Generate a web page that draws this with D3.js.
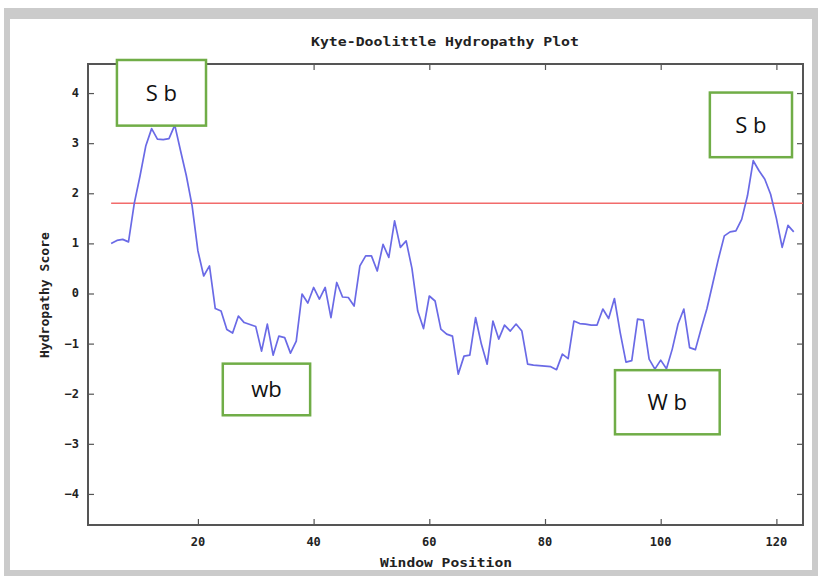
<!DOCTYPE html>
<html>
<head>
<meta charset="utf-8">
<script src="https://cdn.jsdelivr.net/npm/d3@7"></script>
<style>
  html, body { margin: 0; padding: 0; background: #fff; }
  svg { display: block; }
  .mono { font-family: "DejaVu Sans Mono", "Liberation Mono", monospace; font-weight: bold; fill: #222; }
  .note { font-family: "Open Sans", "Liberation Sans", sans-serif; fill: #111; }
</style>
</head>
<body>
<svg id="chart" width="818" height="576"></svg>
<script>
// Kyte-Doolittle hydropathy scores, one per window centre position
const windowStart = 5;
const scores = [
  1.00, 1.06, 1.08, 1.03, 1.80, 2.35, 2.95, 3.29, 3.08, 3.07,   // 5-14
  3.09, 3.36, 2.85, 2.35, 1.75, 0.85, 0.35, 0.55, -0.30, -0.35, // 15-24
  -0.72, -0.79, -0.45, -0.58, -0.62, -0.66, -1.15, -0.61, -1.23, -0.85, // 25-34
  -0.88, -1.19, -0.95, -0.01, -0.19, 0.12, -0.11, 0.12, -0.48, 0.22,   // 35-44
  -0.07, -0.08, -0.25, 0.55, 0.75, 0.75, 0.45, 0.98, 0.72, 1.45,       // 45-54
  0.92, 1.05, 0.50, -0.35, -0.70, -0.05, -0.15, -0.71, -0.81, -0.85,   // 55-64
  -1.61, -1.25, -1.23, -0.48, -1.01, -1.41, -0.55, -0.91, -0.63, -0.75, // 65-74
  -0.61, -0.75, -1.41, -1.43, -1.44, -1.45, -1.46, -1.52, -1.21, -1.30, // 75-84
  -0.55, -0.60, -0.61, -0.63, -0.63, -0.31, -0.50, -0.10, -0.78, -1.37, // 85-94
  -1.34, -0.51, -0.53, -1.31, -1.51, -1.33, -1.50, -1.11, -0.61, -0.31, // 95-104
  -1.08, -1.12, -0.70, -0.30, 0.20, 0.70, 1.15, 1.23, 1.25, 1.48,      // 105-114
  1.95, 2.65, 2.45, 2.28, 1.98, 1.50, 0.92, 1.36, 1.23                 // 115-123
];
const positions = scores.map((_, i) => windowStart + i);
const threshold = 1.8;
const xTicks = [20, 40, 60, 80, 100, 120];
const yTicks = [-4, -3, -2, -1, 0, 1, 2, 3, 4];

// Region annotations: label and the box corners in window / score units
const noteLabels = ["S b", "wb", "W b", "S b"];
const noteX0 = [6.0, 24.3, 92.1, 108.5];
const noteX1 = [21.4, 39.4, 110.2, 122.7];
const noteY0 = [4.66, -1.40, -1.53, 4.01];
const noteY1 = [3.35, -2.43, -2.81, 2.72];

const svg = d3.select("#chart");

// page frame
svg.append("rect").attr("x", 4).attr("y", 8).attr("width", 814).attr("height", 568).attr("fill", "#cbcbcb");
svg.append("rect").attr("x", 10).attr("y", 19).attr("width", 802).attr("height", 551).attr("fill", "#fff");

const plot = { left: 88, right: 803, top: 64, bottom: 525 };
const x = d3.scaleLinear().domain([1, 124.6]).range([plot.left, plot.right]);
const y = d3.scaleLinear().domain([-4.62, 4.58]).range([plot.bottom, plot.top]);

const frameColor = "#555";

// axes with inward ticks, mirrored on the opposite sides
const axL = svg.append("g").attr("transform", `translate(${plot.left},0)`)
  .call(d3.axisRight(y).tickValues(yTicks).tickSize(6).tickFormat(""));
const axR = svg.append("g").attr("transform", `translate(${plot.right},0)`)
  .call(d3.axisLeft(y).tickValues(yTicks).tickSize(6).tickFormat(""));
const axB = svg.append("g").attr("transform", `translate(0,${plot.bottom})`)
  .call(d3.axisTop(x).tickValues(xTicks).tickSize(6).tickFormat(""));
const axT = svg.append("g").attr("transform", `translate(0,${plot.top})`)
  .call(d3.axisBottom(x).tickValues(xTicks).tickSize(6).tickFormat(""));
[axL, axR, axB, axT].forEach(g => {
  g.select(".domain").remove();
  g.selectAll(".tick line").attr("stroke", frameColor).attr("stroke-width", 1.2);
});

svg.append("rect")
  .attr("x", plot.left).attr("y", plot.top)
  .attr("width", plot.right - plot.left).attr("height", plot.bottom - plot.top)
  .attr("fill", "none").attr("stroke", frameColor).attr("stroke-width", 2);

// tick labels
svg.append("g").selectAll("text").data(yTicks).join("text")
  .attr("class", "mono").attr("font-size", 12)
  .attr("x", plot.left - 9).attr("y", d => y(d) + 4)
  .attr("text-anchor", "end")
  .text(d => d < 0 ? "\u2212" + Math.abs(d) : d);
svg.append("g").selectAll("text").data(xTicks).join("text")
  .attr("class", "mono").attr("font-size", 12)
  .attr("x", d => x(d)).attr("y", plot.bottom + 21)
  .attr("text-anchor", "middle")
  .text(d => d);

// titles
svg.append("text").attr("class", "mono").attr("font-size", 12)
  .attr("x", 445).attr("y", 46).attr("text-anchor", "middle")
  .attr("textLength", 268).attr("lengthAdjust", "spacingAndGlyphs")
  .text("Kyte-Doolittle Hydropathy Plot");
svg.append("text").attr("class", "mono").attr("font-size", 12)
  .attr("x", 446).attr("y", 567).attr("text-anchor", "middle")
  .attr("textLength", 132).attr("lengthAdjust", "spacingAndGlyphs")
  .text("Window Position");
svg.append("text").attr("class", "mono").attr("font-size", 12)
  .attr("transform", "translate(49,295) rotate(-90)").attr("text-anchor", "middle")
  .attr("textLength", 126).attr("lengthAdjust", "spacingAndGlyphs")
  .text("Hydropathy Score");

// threshold line
svg.append("line")
  .attr("x1", x(windowStart)).attr("x2", x(124.6))
  .attr("y1", y(threshold)).attr("y2", y(threshold))
  .attr("stroke", "#f26b6b").attr("stroke-width", 1.6);

// hydropathy profile
const line = d3.line().x((d, i) => x(positions[i])).y(d => y(d));
svg.append("path").datum(scores)
  .attr("d", line)
  .attr("fill", "none")
  .attr("stroke", "#6a6ae6")
  .attr("stroke-width", 1.7)
  .attr("stroke-linejoin", "round");

// annotation boxes
const notes = svg.append("g").selectAll("g").data(noteLabels).join("g");
notes.append("rect")
  .attr("x", (d, i) => x(noteX0[i])).attr("y", (d, i) => y(noteY0[i]))
  .attr("width", (d, i) => x(noteX1[i]) - x(noteX0[i]))
  .attr("height", (d, i) => y(noteY1[i]) - y(noteY0[i]))
  .attr("fill", "#fff").attr("stroke", "#70ad47").attr("stroke-width", 2.5);
notes.append("text").attr("class", "note").attr("font-size", 22)
  .attr("x", (d, i) => (x(noteX0[i]) + x(noteX1[i])) / 2)
  .attr("y", (d, i) => (y(noteY0[i]) + y(noteY1[i])) / 2 + 8)
  .attr("text-anchor", "middle")
  .text(d => d);
</script>
</body>
</html>
